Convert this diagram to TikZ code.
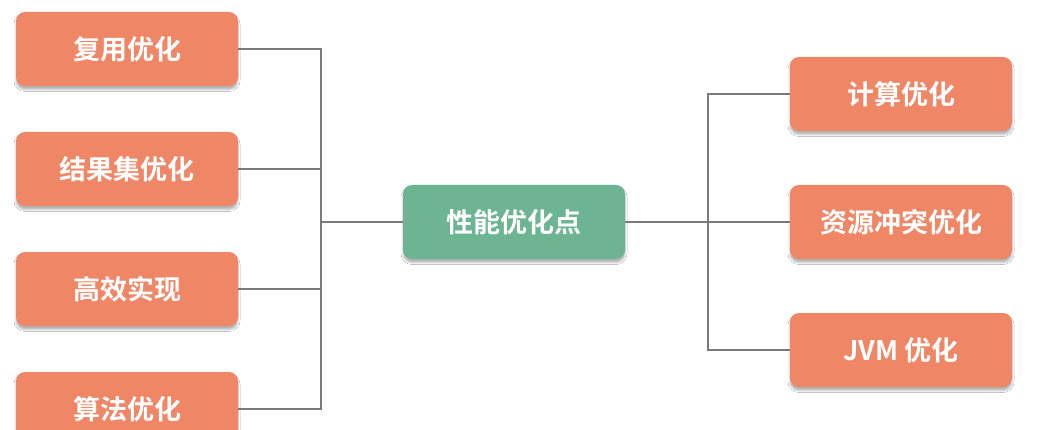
\documentclass[tikz,border=0pt]{standalone}
\usepackage{fontspec}
\newfontfamily\cjk{Noto Sans CJK SC}[BoldFont={Noto Sans CJK SC Bold}]
\usetikzlibrary{shadows.blur}
\definecolor{boxorange}{HTML}{EF8766}
\definecolor{boxgreen}{HTML}{6DB592}
\definecolor{linegray}{HTML}{7A7A7A}
\tikzset{
  x=1pt, y=-1pt,
  leafbox/.style={rectangle, rounded corners=9pt, fill=boxorange, minimum width=222pt, minimum height=74pt,
    text=white, font=\cjk\bfseries\fontsize{27}{30}\selectfont, inner sep=0pt,
    blur shadow={shadow xshift=0pt, shadow yshift=-3.5pt, shadow opacity=30, shadow blur steps=4, shadow blur radius=2pt}},
  rootbox/.style={leafbox, fill=boxgreen},
  link/.style={draw=linegray, line width=2.6pt}
}
\begin{document}
\begin{tikzpicture}
\useasboundingbox (0,0) rectangle (1051,430);
\clip (0,0) rectangle (1051,430);
\fill[white] (0,0) rectangle (1051,430);
\node[leafbox] (l1) at (127,49) {复用优化};
\node[leafbox] (l2) at (127,169) {结果集优化};
\node[leafbox] (l3) at (127,289) {高效实现};
\node[leafbox] (l4) at (127,409) {算法优化};
\node[rootbox] (c) at (514,222) {性能优化点};
\node[leafbox] (r1) at (901,94) {计算优化};
\node[leafbox] (r2) at (901,222) {资源冲突优化};
\node[leafbox] (r3) at (901,350) {JVM 优化};
\coordinate (lb) at (321,222);
\coordinate (rb) at (708,222);
\draw[link] (l1.east) -| (lb);
\draw[link] (l2.east) -| (lb);
\draw[link] (l3.east) -| (lb);
\draw[link] (l4.east) -| (lb);
\draw[link] (lb) -- (c.west);
\draw[link] (c.east) -- (rb);
\draw[link] (r1.west) -| (rb);
\draw[link] (r2.west) -- (rb);
\draw[link] (r3.west) -| (rb);
\end{tikzpicture}
\end{document}
